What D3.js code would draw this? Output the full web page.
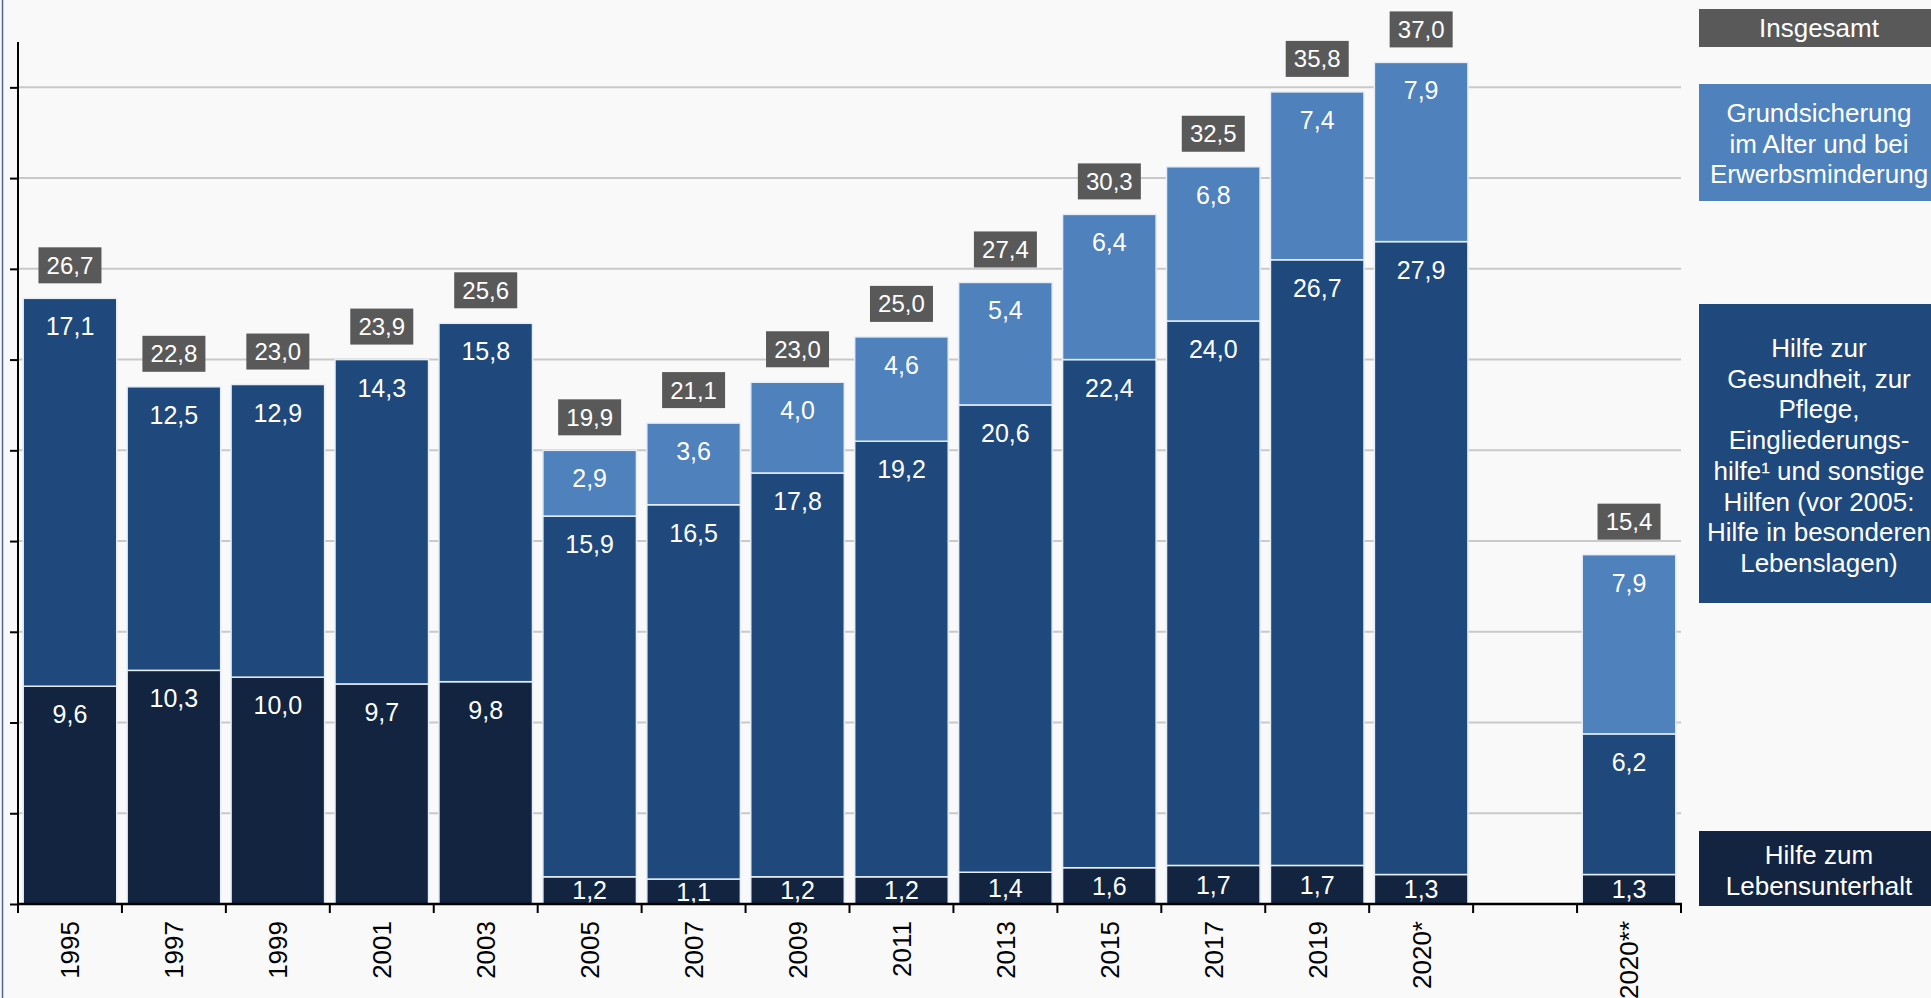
<!DOCTYPE html>
<html lang="de">
<head>
<meta charset="utf-8">
<script src="https://cdn.jsdelivr.net/npm/d3@7"></script>
<style>
  html, body { margin: 0; padding: 0; background: #f9f9f9; overflow: hidden; }
  svg { display: block; font-family: "Liberation Sans", Arial, sans-serif; }
</style>
</head>
<body>
<svg id="chart" width="1931" height="998"></svg>
<script>
// Categories (x slots); the empty slot separates the two 2020 figures
const categories = ["1995", "1997", "1999", "2001", "2003", "2005", "2007", "2009", "2011", "2013", "2015", "2017", "2019", "2020*", "", "2020**"];

// Series values (Mrd. Euro)
const lebensunterhalt = [9.6, 10.3, 10.0, 9.7, 9.8, 1.2, 1.1, 1.2, 1.2, 1.4, 1.6, 1.7, 1.7, 1.3, null, 1.3];
const gesundheitPflege = [17.1, 12.5, 12.9, 14.3, 15.8, 15.9, 16.5, 17.8, 19.2, 20.6, 22.4, 24.0, 26.7, 27.9, null, 6.2];
const grundsicherung = [0, 0, 0, 0, 0, 2.9, 3.6, 4.0, 4.6, 5.4, 6.4, 6.8, 7.4, 7.9, null, 7.9];
const insgesamt = [26.7, 22.8, 23.0, 23.9, 25.6, 19.9, 21.1, 23.0, 25.0, 27.4, 30.3, 32.5, 35.8, 37.0, null, 15.4];

// Y axis ticks (no labels)
const yTicks = [0, 4, 8, 12, 16, 20, 24, 28, 32, 36];

// Legend texts
const legendInsgesamt = ["Insgesamt"];
const legendGrundsicherung = ["Grundsicherung", "im Alter und bei", "Erwerbsminderung"];
const legendGesundheit = ["Hilfe zur", "Gesundheit, zur", "Pflege,", "Eingliederungs-", "hilfe\u00B9 und sonstige", "Hilfen (vor 2005:", "Hilfe in besonderen", "Lebenslagen)"];
const legendLebensunterhalt = ["Hilfe zum", "Lebensunterhalt"];

const seriesKeys = ["lebensunterhalt", "gesundheitPflege", "grundsicherung"];
const colors = {
  lebensunterhalt: "#12243f",
  gesundheitPflege: "#1f497c",
  grundsicherung: "#4f81bd",
  total: "#595959"
};

const de = d3.formatLocale({ decimal: ",", thousands: ".", grouping: [3], currency: ["", " €"] });
const fmt = de.format(".1f");

const svg = d3.select("#chart");

const x0 = 18, x1 = 1681, yBase = 904, yTop = 42;

const x = d3.scaleBand()
  .domain(categories.map((c, i) => i))
  .range([x0, x1])
  .paddingInner(0.1)
  .paddingOuter(0.05);

const y = d3.scaleLinear().domain([0, 38]).range([yBase, yTop]);

// Thin frame line on the left edge
svg.append("line")
  .attr("x1", 2.5).attr("x2", 2.5).attr("y1", 0).attr("y2", 998)
  .attr("stroke", "#4a6a9a").attr("stroke-width", 1.5);

// Gridlines
svg.append("g")
  .selectAll("line")
  .data(yTicks.filter(t => t > 0))
  .join("line")
  .attr("x1", x0).attr("x2", x1)
  .attr("y1", d => y(d)).attr("y2", d => y(d))
  .attr("stroke", "#c9c9c9").attr("stroke-width", 2);

// Stacked data rows
const rows = categories.map((c, i) => ({
  idx: i,
  cat: c,
  lebensunterhalt: lebensunterhalt[i],
  gesundheitPflege: gesundheitPflege[i],
  grundsicherung: grundsicherung[i],
  total: insgesamt[i]
})).filter(r => r.total !== null);

const stack = d3.stack().keys(seriesKeys);
const stacked = stack(rows);

const gBars = svg.append("g");
stacked.forEach(layer => {
  const key = layer.key;
  gBars.append("g")
    .selectAll("rect")
    .data(layer.filter(d => d.data[key] > 0))
    .join("rect")
    .attr("x", d => x(d.data.idx))
    .attr("width", x.bandwidth())
    .attr("y", d => y(d[1]))
    .attr("height", d => y(d[0]) - y(d[1]))
    .attr("fill", colors[key])
    .attr("stroke", "#e6edf6")
    .attr("stroke-width", 1.5);
});

// Segment value labels
const gLabels = svg.append("g")
  .attr("fill", "#ffffff")
  .attr("font-size", 25)
  .attr("text-anchor", "middle");
stacked.forEach(layer => {
  const key = layer.key;
  gLabels.append("g")
    .selectAll("text")
    .data(layer.filter(d => d.data[key] > 0))
    .join("text")
    .attr("x", d => x(d.data.idx) + x.bandwidth() / 2)
    .attr("y", d => {
      const top = y(d[1]), bot = y(d[0]);
      if (bot - top > 55) return top + 37;
      return (top + bot) / 2 + 9;
    })
    .text(d => fmt(d.data[key]));
});

// Total labels (dark boxes above each stack)
const boxW = 63, boxH = 36;
const gTotals = svg.append("g");
const totalG = gTotals.selectAll("g")
  .data(rows)
  .join("g")
  .attr("transform", d => {
    const cx = x(d.idx) + x.bandwidth() / 2;
    const top = y(d.lebensunterhalt + d.gesundheitPflege + d.grundsicherung);
    return `translate(${cx},${top - 15 - boxH})`;
  });
totalG.append("rect")
  .attr("x", -boxW / 2).attr("y", 0)
  .attr("width", boxW).attr("height", boxH)
  .attr("fill", colors.total);
totalG.append("text")
  .attr("x", 0).attr("y", boxH / 2 + 8.5)
  .attr("text-anchor", "middle")
  .attr("fill", "#ffffff")
  .attr("font-size", 24)
  .text(d => fmt(d.total));

// Y axis
const yAxis = d3.axisLeft(y).tickValues(yTicks).tickSize(8).tickFormat("");
const gy = svg.append("g").attr("transform", `translate(${x0},0)`).call(yAxis);
gy.select(".domain").remove();
gy.selectAll(".tick line").attr("stroke", "#000").attr("stroke-width", 2);
svg.append("line")
  .attr("x1", x0).attr("x2", x0).attr("y1", yTop).attr("y2", yBase + 1)
  .attr("stroke", "#000").attr("stroke-width", 2);

// X axis: ticks at slot boundaries, labels at slot centres
const boundaries = d3.range(categories.length + 1).map(i => x0 + i * x.step());
svg.append("g")
  .selectAll("line")
  .data(boundaries)
  .join("line")
  .attr("x1", d => d).attr("x2", d => d)
  .attr("y1", yBase).attr("y2", yBase + 9)
  .attr("stroke", "#000").attr("stroke-width", 2);
svg.append("line")
  .attr("x1", x0 - 1).attr("x2", x1 + 1).attr("y1", yBase).attr("y2", yBase)
  .attr("stroke", "#000").attr("stroke-width", 2.5);

svg.append("g")
  .selectAll("text")
  .data(categories.map((c, i) => ({ c, i })).filter(d => d.c !== ""))
  .join("text")
  .attr("transform", d => `translate(${x(d.i) + x.bandwidth() / 2},${yBase + 17}) rotate(-90)`)
  .attr("text-anchor", "end")
  .attr("dy", "0.36em")
  .attr("font-size", 26)
  .attr("fill", "#000")
  .text(d => d.c);

// Legend boxes on the right
const legendX = 1699, legendW = 240, legendCx = 1819;
function legendBox(lines, top, height, fill, firstBaseline) {
  svg.append("rect")
    .attr("x", legendX).attr("y", top)
    .attr("width", legendW).attr("height", height)
    .attr("fill", fill);
  svg.append("g")
    .selectAll("text")
    .data(lines)
    .join("text")
    .attr("x", legendCx)
    .attr("y", (d, i) => firstBaseline + i * 30.7)
    .attr("text-anchor", "middle")
    .attr("font-size", 26)
    .attr("fill", "#ffffff")
    .text(d => d);
}
legendBox(legendInsgesamt, 9, 38, colors.total, 37);
legendBox(legendGrundsicherung, 84, 117, colors.grundsicherung, 122);
legendBox(legendGesundheit, 304, 299, colors.gesundheitPflege, 357);
legendBox(legendLebensunterhalt, 831, 75, colors.lebensunterhalt, 864);
</script>
</body>
</html>
